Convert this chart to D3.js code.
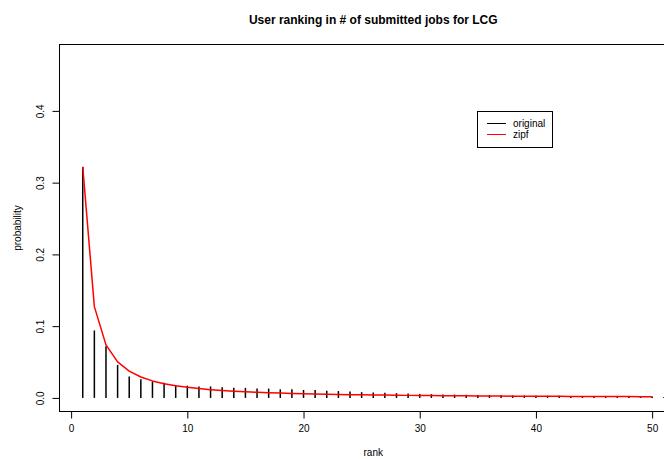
<!DOCTYPE html>
<html>
<head>
<meta charset="utf-8">
<script src="https://cdn.jsdelivr.net/npm/d3@7"></script>
<style>
  html, body { margin: 0; padding: 0; background: #fff; }
  svg text { font-family: "Liberation Sans", Arial, Helvetica, sans-serif; fill: #000; }
</style>
</head>
<body>
<svg id="chart" width="664" height="459"></svg>
<script>
// Rank of each user (1 = most active submitter)
const ranks = d3.range(1, 52);

// Observed share of submitted jobs per user rank
const original = [
  0.322, 0.094, 0.072, 0.046, 0.030, 0.026, 0.023, 0.021, 0.018, 0.017,
  0.016, 0.016, 0.015, 0.014, 0.014, 0.013, 0.013, 0.012, 0.012, 0.011,
  0.011, 0.010, 0.0095, 0.009, 0.008, 0.0077, 0.0072, 0.0066, 0.0060, 0.0056,
  0.0052, 0.0049, 0.0046, 0.0043, 0.0041, 0.0039, 0.0037, 0.0035, 0.0033, 0.0031,
  0.0030, 0.0029, 0.0028, 0.0027, 0.0026, 0.0025, 0.0024, 0.0023, 0.0022, 0.0021,
  0.0008
];

// Fitted Zipf probabilities for ranks 1..50
const zipf = [
  0.3220, 0.1272, 0.0739, 0.0502, 0.0373, 0.0292, 0.0237, 0.0198, 0.0169, 0.0147,
  0.01295, 0.01153, 0.01035, 0.00938, 0.00855, 0.00784, 0.00723, 0.00670, 0.00623, 0.00581,
  0.00545, 0.00512, 0.00482, 0.00455, 0.00431, 0.00409, 0.00389, 0.00370, 0.00353, 0.00338,
  0.00323, 0.00310, 0.00297, 0.00286, 0.00275, 0.00264, 0.00255, 0.00246, 0.00238, 0.00230,
  0.00222, 0.00215, 0.00208, 0.00202, 0.00196, 0.00190, 0.00185, 0.00180, 0.00175, 0.00170
];

const xTicks = [0, 10, 20, 30, 40, 50];
const yTicks = [0.0, 0.1, 0.2, 0.3, 0.4];
const yTickLabels = ["0.0", "0.1", "0.2", "0.3", "0.4"];
const legendLabels = ["original", "zipf"];
const legendColors = ["#000000", "#ff0000"];

const svg = d3.select("#chart");

// Plot region (the right edge extends beyond the canvas)
const plotLeft = 59.5, plotRight = 687, plotTop = 44.5, plotBottom = 411.5;

const xLim = [1, 51];
const xPad = (xLim[1] - xLim[0]) * 0.04;
const x = d3.scaleLinear().domain([xLim[0] - xPad, xLim[1] + xPad]).range([plotLeft, plotRight]);

const yLim = [0, 0.4736];
const yPad = (yLim[1] - yLim[0]) * 0.04;
const y = d3.scaleLinear().domain([yLim[0] - yPad, yLim[1] + yPad]).range([plotBottom, plotTop]);

// Vertical lines for observed frequencies
svg.append("g")
  .selectAll("line")
  .data(ranks)
  .join("line")
  .attr("x1", (r) => x(r))
  .attr("x2", (r) => x(r))
  .attr("y1", y(0))
  .attr("y2", (r, i) => y(original[i]))
  .attr("stroke", "#000")
  .attr("stroke-width", 1.5);

// Zipf fit
svg.append("path")
  .datum(zipf)
  .attr("fill", "none")
  .attr("stroke", "#ff0000")
  .attr("stroke-width", 1.5)
  .attr("stroke-linejoin", "round")
  .attr("d", d3.line().x((d, i) => x(i + 1)).y((d) => y(d)));

// Plot frame
svg.append("rect")
  .attr("x", plotLeft).attr("y", plotTop)
  .attr("width", plotRight - plotLeft).attr("height", plotBottom - plotTop)
  .attr("fill", "none").attr("stroke", "#000").attr("stroke-width", 1);

// X axis
const xAxis = d3.axisBottom(x).tickValues(xTicks).tickSize(7).tickPadding(6).tickFormat(d3.format("d"));
const gx = svg.append("g").attr("transform", `translate(0,${plotBottom})`).call(xAxis);
gx.select(".domain").attr("d", `M${x(xTicks[0])},0H${x(xTicks[xTicks.length - 1])}`);
gx.selectAll("text").attr("font-size", 10).attr("font-family", "Liberation Sans, Arial, sans-serif");

// Y axis
const yAxis = d3.axisLeft(y).tickValues(yTicks).tickSize(7).tickFormat((d, i) => yTickLabels[i]);
const gy = svg.append("g").attr("transform", `translate(${plotLeft},0)`).call(yAxis);
gy.select(".domain").attr("d", `M0,${y(yTicks[0])}V${y(yTicks[yTicks.length - 1])}`);
gy.selectAll(".tick text")
  .attr("font-size", 10)
  .attr("font-family", "Liberation Sans, Arial, sans-serif")
  .attr("x", null).attr("dy", null)
  .attr("text-anchor", "middle")
  .attr("transform", "translate(-15.5,0) rotate(-90)");

// Titles
svg.append("text")
  .attr("x", (plotLeft + plotRight) / 2).attr("y", 24)
  .attr("text-anchor", "middle")
  .attr("font-size", 12).attr("font-weight", "bold")
  .text("User ranking in # of submitted jobs for LCG");

svg.append("text")
  .attr("x", (plotLeft + plotRight) / 2).attr("y", 456)
  .attr("text-anchor", "middle")
  .attr("font-size", 10)
  .text("rank");

svg.append("text")
  .attr("transform", `translate(21,${(plotTop + plotBottom) / 2}) rotate(-90)`)
  .attr("text-anchor", "middle")
  .attr("font-size", 10)
  .text("probability");

// Legend
const lg = svg.append("g");
lg.append("rect")
  .attr("x", 477.5).attr("y", 111.5).attr("width", 75).attr("height", 36)
  .attr("fill", "#fff").attr("stroke", "#000").attr("stroke-width", 1);
legendLabels.forEach((lab, i) => {
  const ly = 123.5 + i * 11;
  lg.append("line")
    .attr("x1", 487).attr("x2", 506).attr("y1", ly).attr("y2", ly)
    .attr("stroke", legendColors[i]).attr("stroke-width", 1);
  lg.append("text")
    .attr("x", 513).attr("y", ly + 3.5)
    .attr("font-size", 10)
    .text(lab);
});
</script>
</body>
</html>
